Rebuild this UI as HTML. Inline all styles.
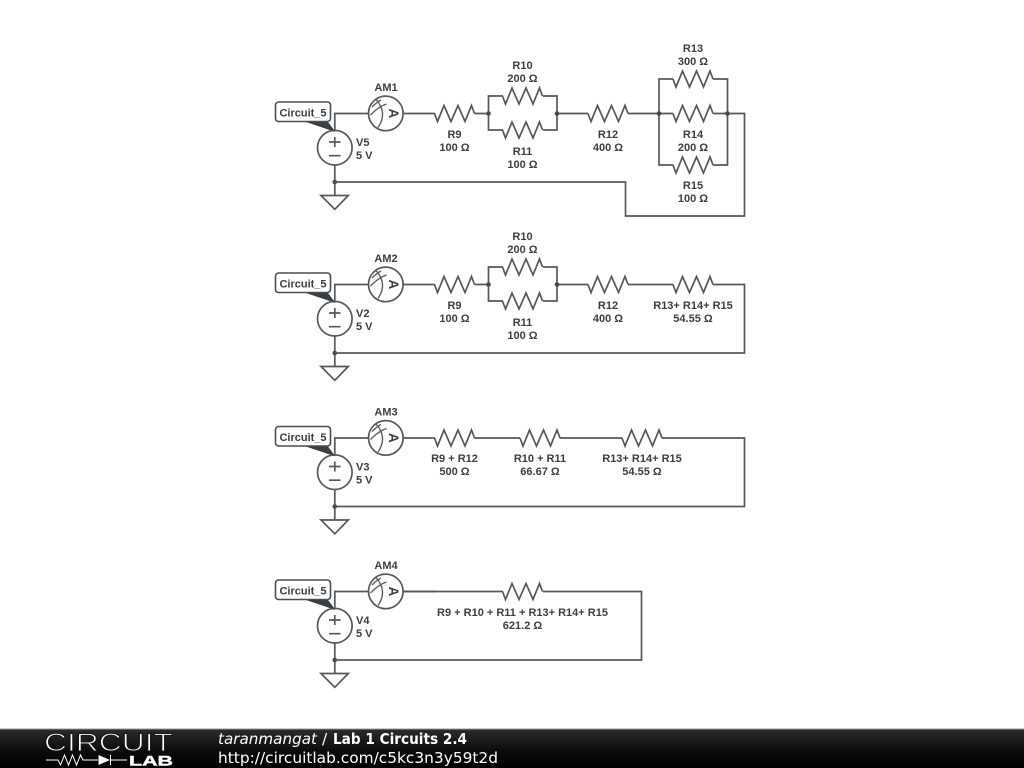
<!DOCTYPE html>
<html><head><meta charset="utf-8"><style>
html,body{margin:0;padding:0;background:#fff;width:1024px;height:768px;overflow:hidden}
svg{display:block}
.w{fill:none;stroke:#55595b;stroke-width:1.7}
.t{font-family:"Liberation Sans",sans-serif;font-weight:bold;font-size:11px;fill:#3a3f41;text-anchor:middle}
.l{text-anchor:start}
.a{font-family:"Liberation Sans",sans-serif;font-weight:bold;font-size:13.5px;fill:#3a3f41;text-anchor:middle}
.f{font-family:"DejaVu Sans",sans-serif;font-size:15.4px;fill:#fff}
</style></head><body>
<svg width="1024" height="768" viewBox="0 0 1024 768" xmlns="http://www.w3.org/2000/svg">
<defs>
<linearGradient id="g" x1="0" y1="0" x2="0" y2="1"><stop offset="0" stop-color="#2c2c2c"/><stop offset=".55" stop-color="#0c0c0c"/><stop offset="1" stop-color="#000"/></linearGradient>
<g id="r"><path class="w" d="M-20 0L-17 8L-10.500 -8L-3.500 8L3.500 -8L10.500 8L17 -8L20 0"/></g>
<circle id="j" r="2.300" fill="#44494b"/>
<g id="src">
<path d="M334.800 131V113.500H369M403 113.500H435" class="w"/>
<path d="M334.800 165V195.500" class="w"/>
<circle cx="334.800" cy="147.700" r="17.300" fill="#fff" stroke="#55595b" stroke-width="1.700"/>
<path class="w" d="M329 142H340.500M334.800 137V147M329 155.700H340.500"/>
<path class="w" d="M321 195.500H348.300L334.800 209.300Z"/>
<circle cx="334.800" cy="182" r="2.300" fill="#44494b"/>
<circle cx="385.800" cy="113.400" r="17.300" fill="#fff" stroke="#55595b" stroke-width="1.700"/>
<path fill="none" stroke="#55595b" stroke-width="1.300" d="M370.500 115Q378 107 386.500 104M376 99.500Q388 113 378 127.500M372 107Q377 102 381 100"/>
<path d="M306 122H328L335.500 132Z" fill="#3a3f41"/>
<rect x="275.500" y="102" width="55" height="19.500" rx="3" fill="#fff" stroke="#4a4f51" stroke-width="1.600"/>
</g>
</defs>

<!-- Row 1 -->
<use href="#src"/>
<text class="a" transform="translate(389 113.400) rotate(90)">A</text>
<text class="t" x="303" y="116.500">Circuit_5</text>
<text class="t" x="386" y="91">AM1</text>
<text class="t l" x="356" y="146">V5</text><text class="t l" x="356" y="159">5 V</text>
<use href="#r" x="454.500" y="113.500"/>
<text class="t" x="454.500" y="138">R9</text><text class="t" x="454.500" y="151">100 Ω</text>
<path class="w" d="M474.500 113.500H488.500M488.500 113.500V96H503M488.500 113.500V130H503M543 96H557V130H543M557 113.500H588"/>
<use href="#r" x="522.500" y="96"/><use href="#r" x="522.500" y="130"/>
<use href="#j" x="488.500" y="113.500"/><use href="#j" x="557" y="113.500"/>
<text class="t" x="522.500" y="69">R10</text><text class="t" x="522.500" y="82">200 Ω</text>
<text class="t" x="522.500" y="155">R11</text><text class="t" x="522.500" y="168">100 Ω</text>
<use href="#r" x="608" y="113.500"/>
<text class="t" x="608" y="138">R12</text><text class="t" x="608" y="151">400 Ω</text>
<path class="w" d="M628 113.500H673M659 113.500V79H673M659 113.500V165H673M713 79H727.500V165H713M713 113.500H744.500V216H625.500V182H334.800"/>
<use href="#r" x="693" y="79"/><use href="#r" x="693" y="113.500"/><use href="#r" x="693" y="165"/>
<use href="#j" x="659" y="113.500"/><use href="#j" x="727.500" y="113.500"/>
<text class="t" x="693" y="52">R13</text><text class="t" x="693" y="65">300 Ω</text>
<text class="t" x="693" y="138">R14</text><text class="t" x="693" y="151">200 Ω</text>
<text class="t" x="693" y="189">R15</text><text class="t" x="693" y="202">100 Ω</text>

<!-- Row 2 -->
<use href="#src" y="171"/>
<text class="a" transform="translate(389 284.400) rotate(90)">A</text>
<text class="t" x="303" y="287.500">Circuit_5</text>
<text class="t" x="386" y="262">AM2</text>
<text class="t l" x="356" y="317">V2</text><text class="t l" x="356" y="330">5 V</text>
<use href="#r" x="454.500" y="284.500"/>
<text class="t" x="454.500" y="309">R9</text><text class="t" x="454.500" y="322">100 Ω</text>
<path class="w" d="M474.500 284.500H488.500M488.500 284.500V267H503M488.500 284.500V301H503M543 267H557V301H543M557 284.500H588"/>
<use href="#r" x="522.500" y="267"/><use href="#r" x="522.500" y="301"/>
<use href="#j" x="488.500" y="284.500"/><use href="#j" x="557" y="284.500"/>
<text class="t" x="522.500" y="240">R10</text><text class="t" x="522.500" y="253">200 Ω</text>
<text class="t" x="522.500" y="326">R11</text><text class="t" x="522.500" y="339">100 Ω</text>
<use href="#r" x="608" y="284.500"/>
<text class="t" x="608" y="309">R12</text><text class="t" x="608" y="322">400 Ω</text>
<use href="#r" x="693" y="284.500"/>
<path class="w" d="M628 284.500H673M713 284.500H744.500V353H334.800"/>
<text class="t" x="693" y="309">R13+ R14+ R15</text><text class="t" x="693" y="322">54.55 Ω</text>

<!-- Row 3 -->
<use href="#src" y="324.500"/>
<text class="a" transform="translate(389 437.900) rotate(90)">A</text>
<text class="t" x="303" y="441">Circuit_5</text>
<text class="t" x="386" y="415.500">AM3</text>
<text class="t l" x="356" y="470.500">V3</text><text class="t l" x="356" y="483.500">5 V</text>
<use href="#r" x="454.500" y="438"/><use href="#r" x="540" y="438"/><use href="#r" x="642" y="438"/>
<path class="w" d="M474.500 438H520M560 438H622M662 438H744.500V506.500H334.800"/>
<text class="t" x="454.500" y="462">R9 + R12</text><text class="t" x="454.500" y="475">500 Ω</text>
<text class="t" x="540" y="462">R10 + R11</text><text class="t" x="540" y="475">66.67 Ω</text>
<text class="t" x="642" y="462">R13+ R14+ R15</text><text class="t" x="642" y="475">54.55 Ω</text>

<!-- Row 4 -->
<use href="#src" y="478"/>
<text class="a" transform="translate(389 591.400) rotate(90)">A</text>
<text class="t" x="303" y="594.500">Circuit_5</text>
<text class="t" x="386" y="569">AM4</text>
<text class="t l" x="356" y="624">V4</text><text class="t l" x="356" y="637">5 V</text>
<use href="#r" x="522.500" y="591.500"/>
<path class="w" d="M403 591.500H503M543 591.500H641.500V660H334.800"/>
<text class="t" x="522.500" y="616">R9 + R10 + R11 + R13+ R14+ R15</text><text class="t" x="522.500" y="629">621.2 Ω</text>

<!-- Footer -->
<rect x="0" y="729" width="1024" height="39" fill="url(#g)"/>
<rect x="0" y="728.500" width="1024" height="1" fill="#999"/>
<text x="44" y="751" font-family="Liberation Sans,sans-serif" font-size="25" fill="#fff" stroke="#161616" stroke-width="1" textLength="129" lengthAdjust="spacingAndGlyphs">CIRCUIT</text>
<path d="M46 760H58L60.500 765L64.500 755L68.500 765L72.500 755L76.500 765L80.500 755L83 760H98M110.500 760H127M110.500 755V765" fill="none" stroke="#fff" stroke-width="1"/>
<path d="M98.500 755L110 760L98.500 765Z" fill="#fff"/>
<text x="129" y="765.500" font-family="Liberation Sans,sans-serif" font-size="14" font-weight="bold" fill="#fff" stroke="#fff" stroke-width=".4" textLength="44" lengthAdjust="spacingAndGlyphs">LAB</text>
<text class="f" x="218" y="744" font-style="italic" textLength="99" lengthAdjust="spacingAndGlyphs">taranmangat</text>
<text class="f" x="322" y="744">/</text>
<text class="f" x="333" y="744" font-weight="bold" textLength="134" lengthAdjust="spacingAndGlyphs">Lab 1 Circuits 2.4</text>
<text class="f" x="218" y="763" textLength="280" lengthAdjust="spacingAndGlyphs">http://circuitlab.com/c5kc3n3y59t2d</text>
</svg>
</body></html>
